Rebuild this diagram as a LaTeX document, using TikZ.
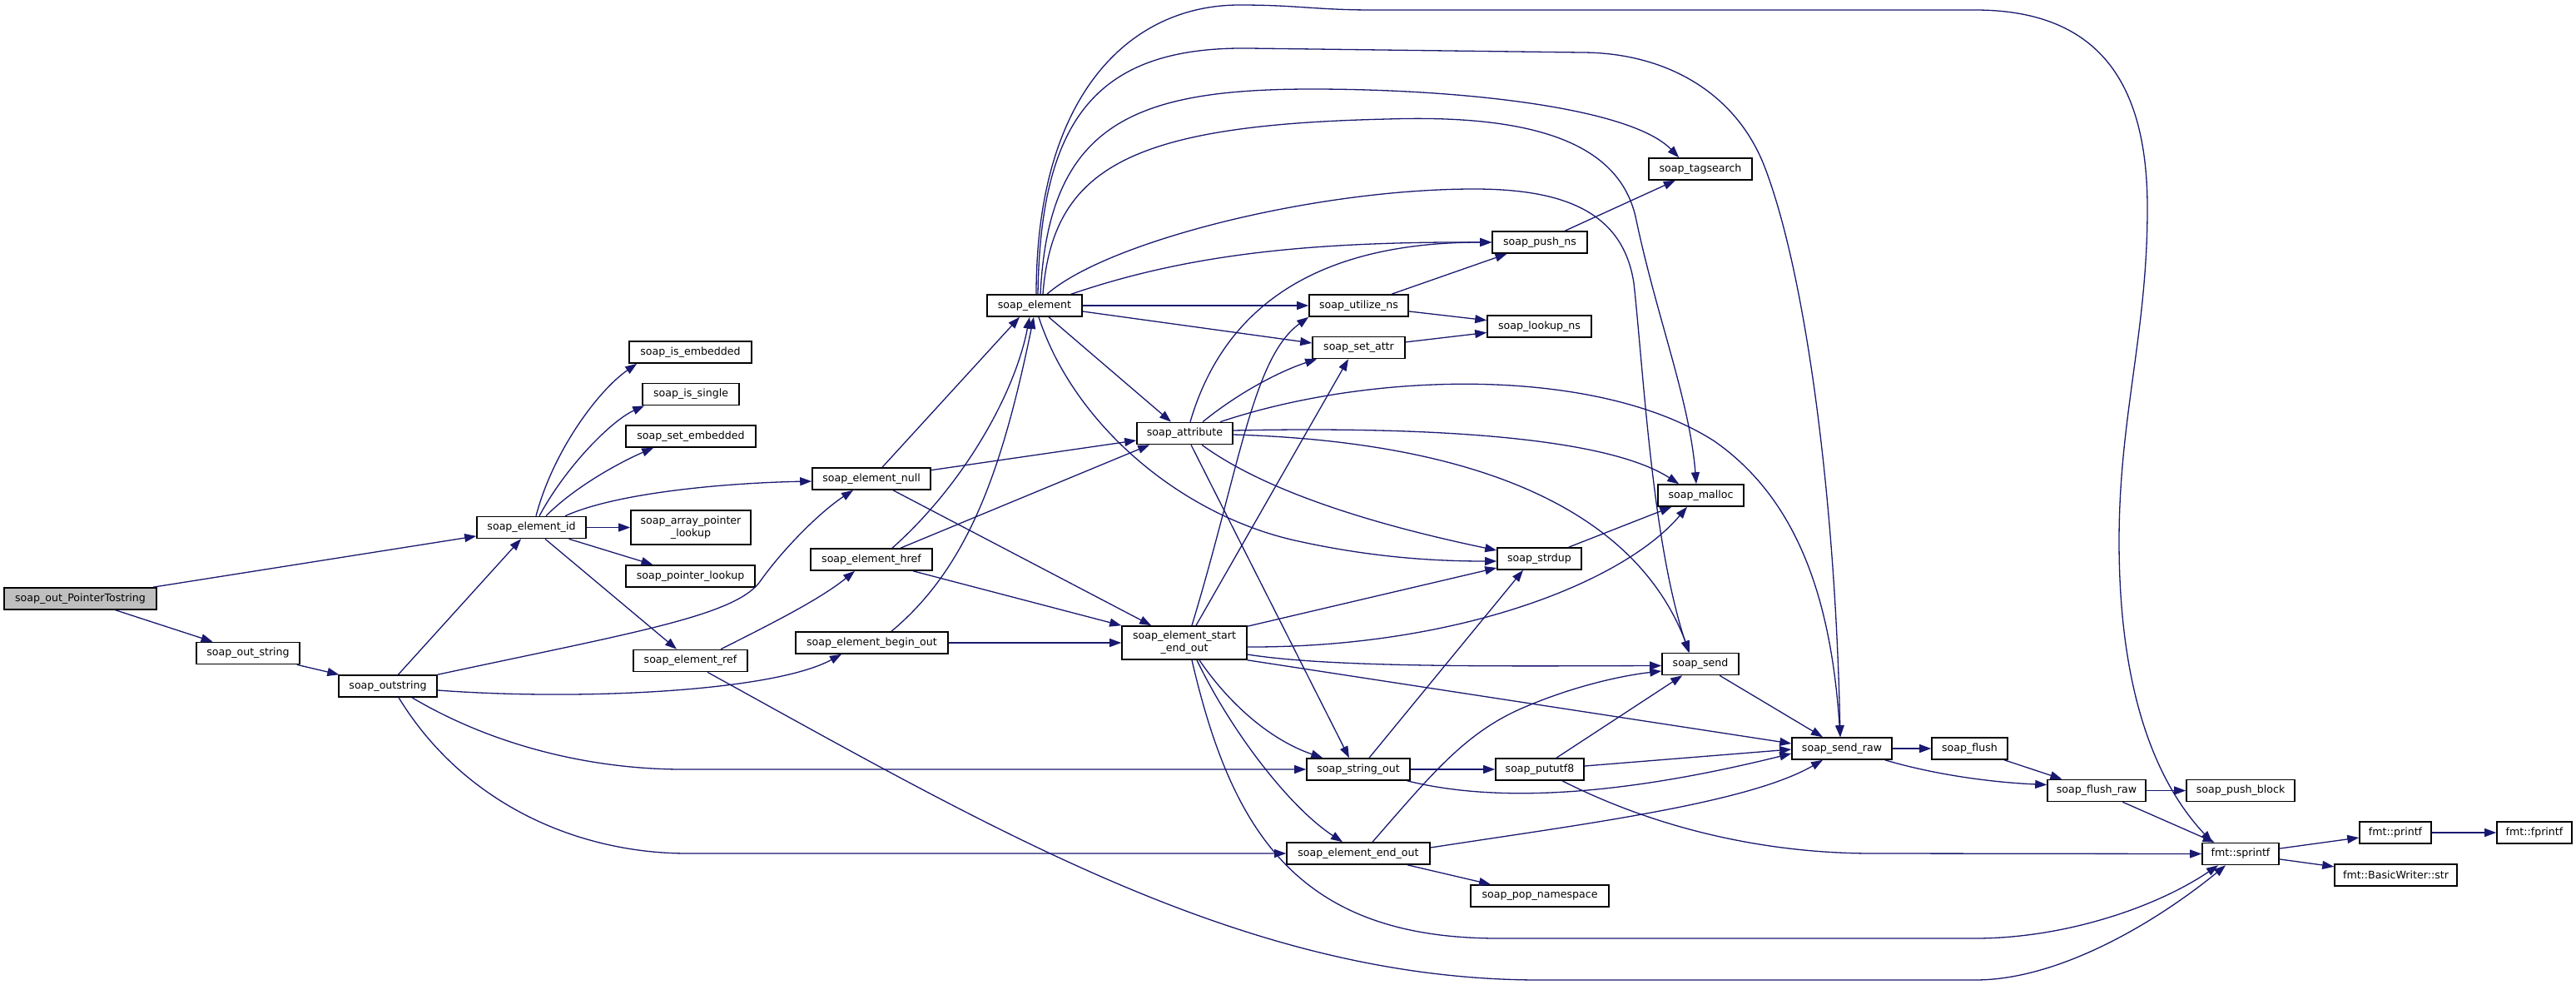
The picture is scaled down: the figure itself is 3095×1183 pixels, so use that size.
\documentclass[tikz,border=0pt]{standalone}
\usepackage{fontspec}
\setmainfont{DejaVu Sans}
\usetikzlibrary{arrows.meta}
\definecolor{eblue}{RGB}{25,25,112}
\definecolor{rootgray}{RGB}{191,191,191}
\begin{document}
\begin{tikzpicture}[x=1pt,y=-1pt,
  nd/.style={draw=black, fill=white, line width=1.6pt, inner sep=0pt, minimum height=26pt,
             minimum width=#1, font=\fontsize{12.6}{15}\selectfont, align=center},
  e/.style={draw=eblue, line width=1.3pt, -{Triangle[length=14pt,width=10pt]}}]
\fill[white] (0,0) rectangle (3095,1183);
\useasboundingbox (0,0) rectangle (3095,1183);

% nodes
\node[nd=183pt, fill=rootgray] (root) at (96.5,719) {soap\_out\_PointerTostring};
\node[nd=124pt] (ostr) at (298,784.5) {soap\_out\_string};
\node[nd=118pt] (outs) at (466,824) {soap\_outstring};
\node[nd=131pt] (eid) at (638.5,633.5) {soap\_element\_id};
\node[nd=147pt] (emb) at (829.5,423) {soap\_is\_embedded};
\node[nd=116pt] (single) at (830,473.5) {soap\_is\_single};
\node[nd=156pt] (setemb) at (830,524) {soap\_set\_embedded};
\node[nd=144pt, minimum height=41pt] (apl) at (830,633.5) {soap\_array\_pointer\\\_lookup};
\node[nd=155pt] (ptr) at (829.5,692) {soap\_pointer\_lookup};
\node[nd=137pt] (eref) at (829.5,793.5) {soap\_element\_ref};
\node[nd=142pt] (enull) at (1047,575) {soap\_element\_null};
\node[nd=146pt] (ehref) at (1047,672) {soap\_element\_href};
\node[nd=183pt] (ebegin) at (1047.5,772) {soap\_element\_begin\_out};
\node[nd=114pt] (elem) at (1243,367) {soap\_element};
\node[nd=115pt] (attr) at (1423.5,520.5) {soap\_attribute};
\node[nd=150pt, minimum height=40pt] (seo) at (1423,772) {soap\_element\_start\\\_end\_out};
\node[nd=119pt] (uns) at (1632.5,367) {soap\_utilize\_ns};
\node[nd=111pt] (sattr) at (1632.5,417.5) {soap\_set\_attr};
\node[nd=124pt] (sout) at (1632,924) {soap\_string\_out};
\node[nd=172pt] (eend) at (1632,1025) {soap\_element\_end\_out};
\node[nd=114pt] (push) at (1850,291) {soap\_push\_ns};
\node[nd=125pt] (lookup) at (1849.5,392) {soap\_lookup\_ns};
\node[nd=101pt] (strdup) at (1849.5,671) {soap\_strdup};
\node[nd=106pt] (utf8) at (1850,924) {soap\_pututf8};
\node[nd=166pt] (popns) at (1850,1076) {soap\_pop\_namespace};
\node[nd=124pt] (tag) at (2043,203) {soap\_tagsearch};
\node[nd=103pt] (malloc) at (2043.5,595) {soap\_malloc};
\node[nd=92pt] (send) at (2043,797.5) {soap\_send};
\node[nd=120pt] (sraw) at (2213,899) {soap\_send\_raw};
\node[nd=91pt] (flush) at (2366.5,899) {soap\_flush};
\node[nd=118pt] (fraw) at (2519,949.5) {soap\_flush\_raw};
\node[nd=130pt] (pblock) at (2692,949.5) {soap\_push\_block};
\node[nd=92pt] (sprintf) at (2692,1025.5) {fmt::sprintf};
\node[nd=86pt] (printf) at (2878,1000) {fmt::printf};
\node[nd=147pt] (bws) at (2878.5,1051) {fmt::BasicWriter::str};
\node[nd=90pt] (fprintf) at (3045,1000) {fmt::fprintf};

% root
\draw[e] (root) -- (eid);
\draw[e] (root) -- (ostr);
\draw[e] (ostr) -- (outs);
% soap_outstring
\draw[e] (outs) -- (eid);
\draw[e] (outs.north east) .. controls (760,760) and (880,740) .. (912,700)
          .. controls (940,660) and (985,615) .. ([xshift=-22pt]enull.south);
\draw[e] ([yshift=-5pt]outs.east) .. controls (700,842) and (930,830) .. ([xshift=-36.5pt]ebegin.south);
\draw[e] ([xshift=29pt]outs.south) .. controls (600,900) and (720,924) .. (820,924) -- (sout.west);
\draw[e] ([xshift=13pt]outs.south) .. controls (560,970) and (700,1025) .. (826,1025) -- (eend.west);
% soap_element_id
\draw[e] ([xshift=5.5pt]eid.north) .. controls (665,540) and (720,468) .. ([xshift=10pt]emb.south west);
\draw[e] ([xshift=9.5pt]eid.north) .. controls (680,560) and (735,505) .. ([xshift=3pt]single.south west);
\draw[e] ([xshift=17.5pt]eid.north) .. controls (690,585) and (745,555) .. ([xshift=34pt]setemb.south west);
\draw[e] ([xshift=40.5pt]eid.north) .. controls (740,592) and (870,580) .. ([yshift=-3pt]enull.west);
\draw[e] (eid) -- (apl);
\draw[e] (eid) -- (ptr);
\draw[e] (eid) -- (eref);
% soap_element_ref
\draw[e] ([xshift=36.5pt]eref.north) .. controls (925,750) and (985,720) .. ([xshift=-20pt]ehref.south);
\draw[e] ([xshift=20.5pt]eref.south) .. controls (1200,1000) and (1500,1177) .. (1850,1177) -- (2373,1177)
          .. controls (2480,1177) and (2600,1100) .. ([xshift=-18pt]sprintf.south);
% soap_element_null
\draw[e] ([xshift=13pt]enull.north) -- ([xshift=-18pt]elem.south);
\draw[e] (enull) -- (attr);
\draw[e] ([xshift=26pt]enull.south) -- ([xshift=36pt]seo.north west);
% soap_element_begin_out
\draw[e] (ebegin) -- (seo);
\draw[e] ([xshift=23.5pt]ebegin.north) .. controls (1165,680) and (1205,560) .. ([xshift=-1pt]elem.south);
% soap_element_href
\draw[e] ([xshift=50pt]ehref.south) -- (seo.north west);
\draw[e] ([xshift=25pt]ehref.north) .. controls (1160,580) and (1220,470) .. ([xshift=-6pt]elem.south);
\draw[e] ([xshift=35pt]ehref.north) -- ([xshift=16pt]attr.south west);
% soap_element
\draw[e] (elem) -- (uns);
\draw[e] ([yshift=-7pt]elem.east) -- ([yshift=5.5pt]sattr.west);
\draw[e] ([xshift=17pt]elem.south) -- ([xshift=-16.5pt]attr.north);
\draw[e] ([xshift=44pt]elem.north) .. controls (1420,308) and (1560,290) .. (push.west);
\draw[e] ([xshift=7pt]elem.north) .. controls (1260,150) and (1360,107) .. (1576,107)
          .. controls (1760,107) and (1960,130) .. ([xshift=37pt]tag.north west);
\draw[e] ([xshift=10pt]elem.north) .. controls (1265,200) and (1360,150) .. (1667,143)
          .. controls (1850,137) and (1945,175) .. (1965,260)
          .. controls (1990,380) and (2030,480) .. ([xshift=-5.5pt]malloc.north);
\draw[e] ([xshift=15pt]elem.north) .. controls (1330,290) and (1580,227) .. (1771,227)
          .. controls (1880,227) and (1950,255) .. (1963,340)
          .. controls (1975,450) and (1985,650) .. ([xshift=-14pt]send.north);
\draw[e] ([xshift=4pt]elem.north) .. controls (1250,140) and (1320,56) .. (1500,58) -- (1900,63)
          .. controls (2000,63) and (2085,110) .. (2120,200)
          .. controls (2170,330) and (2205,600) .. ([xshift=-2pt]sraw.north);
\draw[e] ([xshift=2pt]elem.north) .. controls (1245,110) and (1360,6) .. (1489,6)
          .. controls (1560,6) and (1580,12) .. (1650,12) -- (2373,12)
          .. controls (2530,12) and (2580,110) .. (2580,250)
          .. controls (2580,400) and (2546,500) .. (2546,650)
          .. controls (2546,850) and (2600,950) .. ([xshift=-34pt]sprintf.north);
\draw[e] ([xshift=5pt]elem.south) .. controls (1290,510) and (1420,620) .. (1560,650)
          .. controls (1660,672) and (1740,674) .. ([yshift=-3pt]strdup.west);
% soap_attribute
\draw[e] ([xshift=6.5pt]attr.north) .. controls (1470,370) and (1580,291) .. (push.west);
\draw[e] ([xshift=21.5pt]attr.north) .. controls (1490,470) and (1540,445) .. ([xshift=6pt]sattr.south west);
\draw[e] ([yshift=3.5pt]attr.east) .. controls (1720,512) and (1930,525) .. ([xshift=26pt]malloc.north west);
\draw[e] ([yshift=-1.5pt]attr.east) .. controls (1750,530) and (1960,600) .. ([xshift=-13pt]send.north);
\draw[e] ([xshift=42.5pt]attr.north) .. controls (1650,445) and (1920,440) .. (2060,530)
          .. controls (2160,600) and (2200,720) .. ([xshift=-2pt]sraw.north);
\draw[e] ([xshift=20.5pt]attr.south) .. controls (1520,590) and (1650,630) .. ([yshift=10pt]strdup.west);
\draw[e] ([xshift=7.5pt]attr.south) -- ([xshift=-11pt]sout.north);
% soap_element_start_end_out
\draw[e] ([xshift=9pt]seo.north) .. controls (1490,560) and (1505,430) .. (uns.south west);
\draw[e] ([xshift=14pt]seo.north) -- ([xshift=-12.5pt]sattr.south);
\draw[e] ([yshift=-1pt]seo.north east) -- ([yshift=-11pt]strdup.west);
\draw[e] ([yshift=-5pt]seo.east) .. controls (1750,778) and (1950,700) .. ([xshift=-16.5pt]malloc.south);
\draw[e] ([yshift=-14pt]seo.east) .. controls (1600,802) and (1800,800) .. ([yshift=-2pt]send.west);
\draw[e] (seo.south east) -- ([yshift=6pt]sraw.west);
\draw[e] ([xshift=18pt]seo.south) .. controls (1480,850) and (1530,890) .. ([xshift=20pt]sout.north west);
\draw[e] ([xshift=15pt]seo.south) .. controls (1480,880) and (1550,970) .. ([xshift=-19pt]eend.north);
\draw[e] ([xshift=9pt]seo.south) .. controls (1480,1000) and (1560,1127) .. (1800,1127) -- (2373,1127)
          .. controls (2480,1127) and (2590,1090) .. ([xshift=-27pt]sprintf.south);
% soap_string_out
\draw[e] ([xshift=13pt]sout.north) -- ([xshift=-19.5pt]strdup.south);
\draw[e] (sout) -- (utf8);
\draw[e] ([xshift=-4pt]sout.south east) .. controls (1800,965) and (1950,955) .. ([yshift=-6pt]sraw.west);
% soap_pututf8
\draw[e] ([xshift=20pt]utf8.north) -- ([xshift=25pt]send.south west);
\draw[e] ([yshift=4pt]utf8.east) -- ([yshift=-1pt]sraw.west);
\draw[e] ([xshift=27pt]utf8.south) .. controls (1990,995) and (2120,1025) .. (2250,1025) -- (sprintf.west);
% soap_element_end_out
\draw[e] ([xshift=17pt]eend.north) .. controls (1720,930) and (1760,880) .. (1830,850)
          .. controls (1900,820) and (1960,810) .. ([yshift=-8.5pt]send.west);
\draw[e] ([yshift=7pt]eend.east) .. controls (1900,990) and (2100,965) .. ([xshift=-23pt]sraw.south);
\draw[e] (eend) -- (popns);
% others
\draw[e] (strdup) -- (malloc);
\draw[e] (send) -- (sraw);
\draw[e] (uns) -- (push);
\draw[e] (uns) -- (lookup);
\draw[e] (sattr) -- (lookup);
\draw[e] (push) -- (tag);
\draw[e] (sraw) -- (flush);
\draw[e] ([xshift=-9pt]sraw.south east) .. controls (2330,932) and (2400,940) .. ([yshift=7pt]fraw.west);
\draw[e] (flush) -- (fraw);
\draw[e] (fraw) -- (pblock);
\draw[e] (fraw) -- (sprintf);
\draw[e] (sprintf) -- (printf);
\draw[e] (sprintf) -- (bws);
\draw[e] (printf) -- (fprintf);
\end{tikzpicture}
\end{document}
